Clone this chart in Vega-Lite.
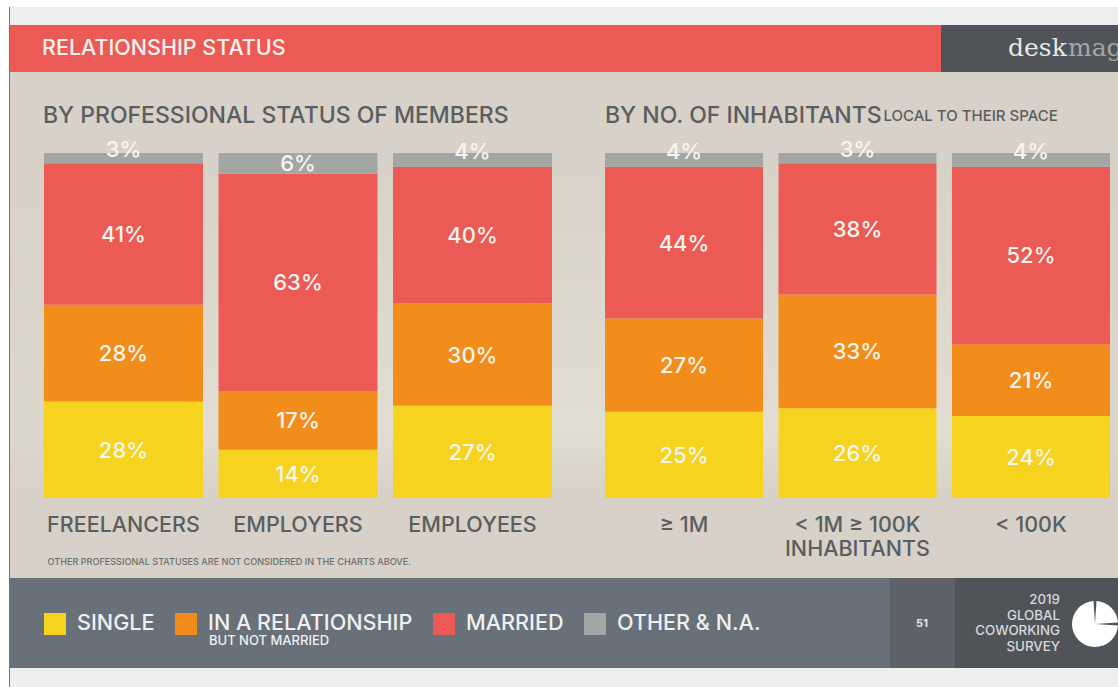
{
"$schema":"https://vega.github.io/schema/vega-lite/v6.json",
"padding":0,
"background":"#d7d1c7",
"spacing":0,
"resolve":{"scale":{"color":"independent"},"legend":{"color":"independent"}},
"config":{"view":{"stroke":null},"font":"Inter","concat":{"spacing":0}},
"datasets":{
"blank":[{"k":1}],
"members":[
{"group":"FREELANCERS","status":"SINGLE","rank":1,"share":28,"label":"28%"},
{"group":"FREELANCERS","status":"IN A RELATIONSHIP","rank":2,"share":28,"label":"28%"},
{"group":"FREELANCERS","status":"MARRIED","rank":3,"share":41,"label":"41%"},
{"group":"FREELANCERS","status":"OTHER & N.A.","rank":4,"share":3,"label":"3%"},
{"group":"EMPLOYERS","status":"SINGLE","rank":1,"share":14,"label":"14%"},
{"group":"EMPLOYERS","status":"IN A RELATIONSHIP","rank":2,"share":17,"label":"17%"},
{"group":"EMPLOYERS","status":"MARRIED","rank":3,"share":63,"label":"63%"},
{"group":"EMPLOYERS","status":"OTHER & N.A.","rank":4,"share":6,"label":"6%"},
{"group":"EMPLOYEES","status":"SINGLE","rank":1,"share":27,"label":"27%"},
{"group":"EMPLOYEES","status":"IN A RELATIONSHIP","rank":2,"share":30,"label":"30%"},
{"group":"EMPLOYEES","status":"MARRIED","rank":3,"share":40,"label":"40%"},
{"group":"EMPLOYEES","status":"OTHER & N.A.","rank":4,"share":4,"label":"4%"}],
"inhabitants":[
{"group":"≥ 1M","status":"SINGLE","rank":1,"share":25,"label":"25%"},
{"group":"≥ 1M","status":"IN A RELATIONSHIP","rank":2,"share":27,"label":"27%"},
{"group":"≥ 1M","status":"MARRIED","rank":3,"share":44,"label":"44%"},
{"group":"≥ 1M","status":"OTHER & N.A.","rank":4,"share":4,"label":"4%"},
{"group":"< 1M ≥ 100K\nINHABITANTS","status":"SINGLE","rank":1,"share":26,"label":"26%"},
{"group":"< 1M ≥ 100K\nINHABITANTS","status":"IN A RELATIONSHIP","rank":2,"share":33,"label":"33%"},
{"group":"< 1M ≥ 100K\nINHABITANTS","status":"MARRIED","rank":3,"share":38,"label":"38%"},
{"group":"< 1M ≥ 100K\nINHABITANTS","status":"OTHER & N.A.","rank":4,"share":3,"label":"3%"},
{"group":"< 100K","status":"SINGLE","rank":1,"share":24,"label":"24%"},
{"group":"< 100K","status":"IN A RELATIONSHIP","rank":2,"share":21,"label":"21%"},
{"group":"< 100K","status":"MARRIED","rank":3,"share":52,"label":"52%"},
{"group":"< 100K","status":"OTHER & N.A.","rank":4,"share":4,"label":"4%"}]
},
"hconcat":[
{"width":9,"height":687,"view":{"fill":"#ffffff"},"data":{"name":"blank"},"mark":{"type":"text","fontSize":1},"encoding":{"text":{"value":""}}},
{"spacing":0,"vconcat":[
 {"width":1,"height":7,"view":{"fill":"#ffffff"},"data":{"name":"blank"},"mark":{"type":"text","fontSize":1},"encoding":{"text":{"value":""}}},
 {"width":1,"height":680,"view":{"fill":"#75777a"},"data":{"name":"blank"},"mark":{"type":"text","fontSize":1},"encoding":{"text":{"value":""}}}
]},
{"spacing":0,"resolve":{"scale":{"color":"independent"},"legend":{"color":"independent"}},"vconcat":[
 {"width":1108,"height":7,"view":{"fill":"#ffffff"},"data":{"name":"blank"},"mark":{"type":"text","fontSize":1},"encoding":{"text":{"value":""}}},
 {"width":1108,"height":18,"view":{"fill":"#eeeeee"},"data":{"name":"blank"},"mark":{"type":"text","fontSize":1},"encoding":{"text":{"value":""}}},
 {"spacing":0,"hconcat":[
  {"width":931,"height":47,"view":{"fill":"#ec5a55"},"data":{"values":[{"t":"RELATIONSHIP STATUS"}]},
   "mark":{"type":"text","align":"left","baseline":"middle","fontSize":21.5,"fontWeight":500,"color":"#fbf3f0"},
   "encoding":{"text":{"field":"t"},
    "x":{"datum":32,"type":"quantitative","scale":{"domain":[0,931],"nice":false},"axis":null},
    "y":{"datum":23,"type":"quantitative","scale":{"domain":[0,47],"nice":false},"axis":null}}},
  {"width":177,"height":47,"view":{"fill":"#505459"},"data":{"values":[{"a":"desk","b":"mag"}]},
   "encoding":{"y":{"datum":24,"type":"quantitative","scale":{"domain":[0,47],"nice":false},"axis":null}},
   "layer":[
    {"mark":{"type":"text","align":"left","baseline":"middle","font":"DejaVu Serif","fontSize":25,"color":"#e8e8e8","clip":true},
     "encoding":{"text":{"field":"a"},"x":{"datum":67,"type":"quantitative","scale":{"domain":[0,177],"nice":false},"axis":null}}},
    {"mark":{"type":"text","align":"left","baseline":"middle","font":"DejaVu Serif","fontSize":25,"color":"#a3a6a8","clip":true},
     "encoding":{"text":{"field":"b"},"x":{"datum":127,"type":"quantitative","scale":{"domain":[0,177],"nice":false},"axis":null}}}
   ]}
 ]},
 {"width":1108,"height":33,"data":{"name":"blank"},"mark":{"type":"text","fontSize":1},"encoding":{"text":{"value":""}}},
 {"spacing":0,"resolve":{"scale":{"color":"independent"},"legend":{"color":"independent"}},"hconcat":[
  {"width":33,"height":345,"view":{"fill":{"gradient":"linear","x1":0,"y1":0,"x2":0,"y2":1,"stops":[{"offset":0,"color":"#d7d1c7"},{"offset":0.8,"color":"#dcd7cc"},{"offset":1,"color":"#d7d1c7"}]}},"data":{"name":"blank"},"mark":{"type":"text","fontSize":1},"encoding":{"text":{"value":""}}},
  {"width":508,"height":345,"data":{"name":"members"},
   "view":{"fill":{"gradient":"linear","x1":0,"y1":0,"x2":0,"y2":1,"stops":[{"offset":0,"color":"#d7d1c7"},{"offset":0.8,"color":"#e2ded3"},{"offset":1,"color":"#d7d1c7"}]}},
   "title":{"text":"BY PROFESSIONAL STATUS OF MEMBERS","anchor":"start","frame":"group","fontSize":23,"fontWeight":500,"color":"#5a5e61","offset":11,"dx":-1},
   "encoding":{
    "x":{"field":"group","type":"nominal","sort":null,"scale":{"domain":["FREELANCERS","EMPLOYERS","EMPLOYEES"],"paddingInner":0.089,"paddingOuter":0},
     "axis":{"title":"OTHER PROFESSIONAL STATUSES ARE NOT CONSIDERED IN THE CHARTS ABOVE.","titleFontSize":9.1,"titleFontWeight":500,"titleColor":"#6b6e70","titleAnchor":"start","titleX":3,"titlePadding":22,"labelAngle":0,"labelFontSize":21.5,"labelFontWeight":500,"labelColor":"#5a5e61","labelPadding":16,"labelLimit":300,"ticks":false,"domain":false,"grid":false}},
    "y":{"field":"share","type":"quantitative","stack":"normalize","scale":{"domain":[0,1],"nice":false},"axis":null},
    "order":{"field":"rank"}},
   "layer":[
    {"mark":{"type":"bar"},"encoding":{"color":{"field":"status","type":"nominal","legend":null,"scale":{"domain":["SINGLE","IN A RELATIONSHIP","MARRIED","OTHER & N.A."],"range":["#f5d31f","#f28c1a","#ec5a55","#a2a6a4"]}}}},
    {"mark":{"type":"text","fontSize":22,"fontWeight":500,"color":"#f8f6f0","dy":1},"encoding":{"y":{"field":"share","type":"quantitative","stack":"normalize","bandPosition":0.5},"detail":{"field":"status"},"text":{"condition":{"test":"datum.status!='OTHER & N.A.' || datum.group=='EMPLOYERS'","field":"label"},"value":""}}},
    {"mark":{"type":"text","fontSize":22,"fontWeight":500,"color":"#f8f6f0","dy":-8},"encoding":{"y":{"field":"share","type":"quantitative","stack":"normalize","bandPosition":0.5},"detail":{"field":"status"},"text":{"condition":{"test":"datum.status=='OTHER & N.A.' && datum.group!='EMPLOYERS'","field":"label"},"value":""}}}
   ]},
  {"width":53,"height":345,"view":{"fill":{"gradient":"linear","x1":0,"y1":0,"x2":0,"y2":1,"stops":[{"offset":0,"color":"#d7d1c7"},{"offset":0.8,"color":"#e2ded3"},{"offset":1,"color":"#d7d1c7"}]}},"data":{"name":"blank"},"mark":{"type":"text","fontSize":1},"encoding":{"text":{"value":""}}},
  {"width":505,"height":345,"data":{"name":"inhabitants"},
   "view":{"fill":{"gradient":"linear","x1":0,"y1":0,"x2":0,"y2":1,"stops":[{"offset":0,"color":"#d7d1c7"},{"offset":0.8,"color":"#e2ded3"},{"offset":1,"color":"#d7d1c7"}]}},
   "title":{"text":"BY NO. OF INHABITANTS","anchor":"start","frame":"group","fontSize":23,"fontWeight":500,"color":"#5a5e61","offset":-19,"dx":0},
   "layer":[
    {"encoding":{
      "x":{"field":"group","type":"nominal","sort":null,"scale":{"domain":["≥ 1M","< 1M ≥ 100K\nINHABITANTS","< 100K"],"paddingInner":0.089,"paddingOuter":0},
       "axis":{"title":null,"labelAngle":0,"labelFontSize":21.5,"labelFontWeight":500,"labelColor":"#5a5e61","labelPadding":16,"labelLimit":300,"labelLineHeight":24,"labelExpr":"split(datum.label,'\\n')","ticks":false,"domain":false,"grid":false}},
      "y":{"field":"share","type":"quantitative","stack":"normalize","scale":{"domain":[0,1],"nice":false},"axis":null},
      "order":{"field":"rank"}},
     "layer":[
      {"mark":{"type":"bar"},"encoding":{"color":{"field":"status","type":"nominal","legend":null,"scale":{"domain":["SINGLE","IN A RELATIONSHIP","MARRIED","OTHER & N.A."],"range":["#f5d31f","#f28c1a","#ec5a55","#a2a6a4"]}}}},
      {"mark":{"type":"text","fontSize":22,"fontWeight":500,"color":"#f8f6f0","dy":1},"encoding":{"y":{"field":"share","type":"quantitative","stack":"normalize","bandPosition":0.5},"detail":{"field":"status"},"text":{"condition":{"test":"datum.status!='OTHER & N.A.'","field":"label"},"value":""}}},
      {"mark":{"type":"text","fontSize":22,"fontWeight":500,"color":"#f8f6f0","dy":-8},"encoding":{"y":{"field":"share","type":"quantitative","stack":"normalize","bandPosition":0.5},"detail":{"field":"status"},"text":{"condition":{"test":"datum.status=='OTHER & N.A.'","field":"label"},"value":""}}}
     ]},
    {"data":{"values":[{"note":"LOCAL TO THEIR SPACE"}]},
     "mark":{"type":"text","align":"left","baseline":"middle","fontSize":15,"fontWeight":500,"color":"#5a5e61","dx":26},
     "encoding":{"text":{"field":"note"},"x":{"datum":"< 1M ≥ 100K\nINHABITANTS"},"y":{"datum":1.107,"type":"quantitative"}}}
   ]},
  {"width":9,"height":345,"view":{"fill":{"gradient":"linear","x1":0,"y1":0,"x2":0,"y2":1,"stops":[{"offset":0,"color":"#d7d1c7"},{"offset":0.8,"color":"#dcd7cc"},{"offset":1,"color":"#d7d1c7"}]}},"data":{"name":"blank"},"mark":{"type":"text","fontSize":1},"encoding":{"text":{"value":""}}}
 ]},
 {"width":1108,"height":11,"data":{"name":"blank"},"mark":{"type":"text","fontSize":1},"encoding":{"text":{"value":""}}},
 {"spacing":0,"resolve":{"scale":{"color":"independent"},"legend":{"color":"independent"}},"hconcat":[
  {"width":880,"height":90,"view":{"fill":"#687079"},
   "layer":[
    {"data":{"values":[{"status":"SINGLE"},{"status":"IN A RELATIONSHIP"},{"status":"MARRIED"},{"status":"OTHER & N.A."}]},
     "mark":{"type":"square","size":0},
     "encoding":{"color":{"field":"status","type":"nominal","scale":{"domain":["SINGLE","IN A RELATIONSHIP","MARRIED","OTHER & N.A."],"range":["#f5d31f","#f28c1a","#ec5a55","#a2a6a4"]},
      "legend":{"title":null,"orient":"none","legendX":34,"legendY":35,"direction":"horizontal","columns":4,"columnPadding":20,"symbolType":"square","symbolSize":484,"symbolOpacity":1,"symbolStrokeWidth":0,"labelFontSize":21.6,"labelFontWeight":500,"labelColor":"#eef0f1","labelOffset":11,"labelLimit":300}}}},
    {"data":{"values":[{"t":"BUT NOT MARRIED"}]},
     "mark":{"type":"text","align":"left","baseline":"middle","fontSize":13,"fontWeight":500,"color":"#eef0f1"},
     "encoding":{"text":{"field":"t"},
      "x":{"datum":199,"type":"quantitative","scale":{"domain":[0,880],"nice":false},"axis":null},
      "y":{"datum":27,"type":"quantitative","scale":{"domain":[0,90],"nice":false},"axis":null}}}
   ]},
  {"width":65,"height":90,"view":{"fill":"#5d6269"},"data":{"values":[{"t":"51"}]},
   "mark":{"type":"text","align":"center","baseline":"middle","fontSize":11,"fontWeight":700,"color":"#e6e7e8"},
   "encoding":{"text":{"field":"t"},
    "x":{"datum":32,"type":"quantitative","scale":{"domain":[0,65],"nice":false},"axis":null},
    "y":{"datum":44,"type":"quantitative","scale":{"domain":[0,90],"nice":false},"axis":null}}},
  {"width":163,"height":90,"view":{"fill":"#505459"},
   "layer":[
    {"data":{"values":[{"t":"2019\nGLOBAL\nCOWORKING\nSURVEY"}]},
     "mark":{"type":"text","align":"right","baseline":"middle","fontSize":13.3,"fontWeight":500,"color":"#d8d9da","lineBreak":"\n","lineHeight":15.5},
     "encoding":{"text":{"field":"t"},
      "x":{"datum":105,"type":"quantitative","scale":{"domain":[0,163],"nice":false},"axis":null},
      "y":{"datum":68,"type":"quantitative","scale":{"domain":[0,90],"nice":false},"axis":null}}},
    {"data":{"values":[{"slice":"rest","share":75},{"slice":"quarter","share":25}]},
     "mark":{"type":"arc","outerRadius":23,"padAngle":0.13,"color":"#ffffff","clip":true},
     "encoding":{"theta":{"field":"share","type":"quantitative","stack":true},"detail":{"field":"slice"},"order":{"field":"share"},
      "x":{"datum":140,"type":"quantitative"},"y":{"datum":44,"type":"quantitative"}}}
   ]}
 ]},
 {"width":1108,"height":19,"view":{"fill":"#eeeeee"},"data":{"name":"blank"},"mark":{"type":"text","fontSize":1},"encoding":{"text":{"value":""}}}
]}
]}
